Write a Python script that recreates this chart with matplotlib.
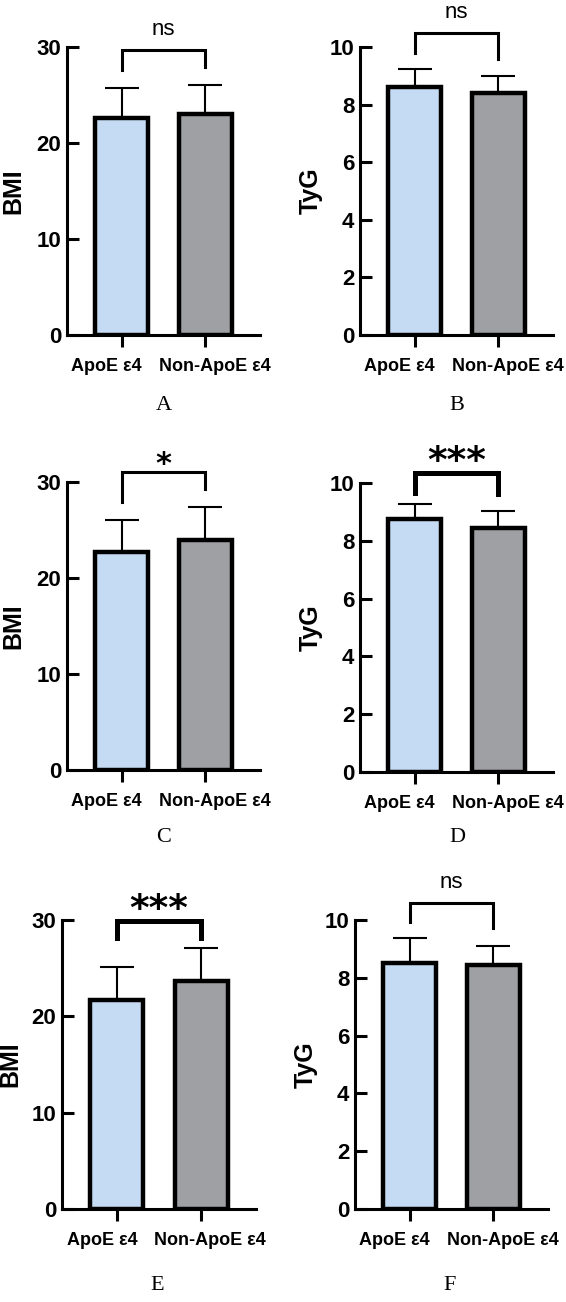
import matplotlib
matplotlib.use("Agg")
import matplotlib.pyplot as plt
from matplotlib.transforms import ScaledTranslation

# data
groups = ['ApoE ε4', 'Non-ApoE ε4']
panel_letters = ['A', 'B', 'C', 'D', 'E', 'F']
ylabels = ['BMI', 'TyG', 'BMI', 'TyG', 'BMI', 'TyG']
ymax = [30, 10, 30, 10, 30, 10]
ystep = [10, 2, 10, 2, 10, 2]
mean_apoe = [22.6, 8.6, 22.7, 8.74, 21.7, 8.52]
mean_non = [23.0, 8.4, 24.0, 8.43, 23.7, 8.43]
sd_apoe = [3.1, 0.64, 3.3, 0.53, 3.4, 0.85]
sd_non = [3.0, 0.6, 3.4, 0.61, 3.4, 0.67]
sig = ['ns', 'ns', '*', '***', '***', 'ns']
# bracket: top, left leg end, right leg end (data units)
br_top = [29.7, 10.5, 31.0, 10.34, 29.9, 10.6]
br_left = [27.6, 9.8, 27.9, 9.64, 28.1, 9.94]
br_right = [27.9, 9.6, 29.3, 9.62, 28.1, 9.71]

blue = '#C5DBF4'
gray = '#9FA0A4'

W, H = 566, 1302
# axes boxes in pixels: left, right, top, bottom
boxes = [(67, 260, 47, 335), (360, 553, 47, 335),
         (67, 260, 482, 770), (360, 553, 483, 772),
         (62, 256, 920, 1209), (355, 548, 920, 1209)]
ylabel_x = [25, 323, 25, 323, 22, 318]
letter_pos = [(164, 405), (457, 405), (164, 838), (457, 838), (157, 1286), (450, 1286)]

fig = plt.figure(figsize=(W / 100, H / 100), dpi=100)
fig.patch.set_facecolor('white')

sans = ['Liberation Sans', 'DejaVu Sans']

for i in range(6):
    l, r, t, b = boxes[i]
    ax = fig.add_axes([l / W, 1 - b / H, (r - l) / W, (b - t) / H])
    x = [0, 1]
    ax.bar(x, [mean_apoe[i], mean_non[i]], width=0.63, color=[blue, gray],
           edgecolor='black', linewidth=3.2, zorder=3)
    ax.errorbar(x, [mean_apoe[i], mean_non[i]],
                yerr=[[0, 0], [sd_apoe[i], sd_non[i]]], fmt='none',
                ecolor='black', elinewidth=1.5, capsize=12, capthick=1.5, zorder=2)
    ax.set_xlim(-0.65, 1.65)
    ax.set_ylim(0, ymax[i])
    ax.set_yticks(range(0, ymax[i] + 1, ystep[i]))
    ax.set_xticks(x)
    ax.set_xticklabels(groups)
    for s in ['top', 'right']:
        ax.spines[s].set_visible(False)
    for s in ['left', 'bottom']:
        ax.spines[s].set_linewidth(2.2)
    ax.tick_params(axis='x', width=2.2, length=8.5, direction='out', labelsize=13, pad=8)
    ax.tick_params(axis='y', width=2.2, length=8.5, direction='in', labelsize=16, pad=4)
    for lbl in ax.get_yticklabels():
        lbl.set_fontweight('bold')
        lbl.set_family(sans)
    for lbl, dx in zip(ax.get_xticklabels(), [-15, 9]):
        lbl.set_fontweight('bold')
        lbl.set_family(sans)
        lbl.set_transform(lbl.get_transform() + ScaledTranslation(dx / 100, 0, fig.dpi_scale_trans))
    ax.set_ylabel(ylabels[i], fontsize=18, fontweight='bold', family=sans)
    ax.yaxis.set_label_coords((ylabel_x[i] - l) / (r - l), 0.5)

    # significance bracket
    lw = 3.6 if sig[i] == '***' else 2.2
    ax.plot([0, 0, 1, 1], [br_left[i], br_top[i], br_top[i], br_right[i]],
            color='black', lw=lw, clip_on=False, solid_joinstyle='miter', zorder=4)
    if sig[i] == 'ns':
        ax.annotate('ns', (0.5, br_top[i]), xytext=(0, 7), textcoords='offset points',
                    ha='center', va='bottom', fontsize=16, family=sans, annotation_clip=False)
    else:
        ax.annotate(sig[i], (0.5, br_top[i]), xytext=(0, -5), textcoords='offset points',
                    ha='center', va='bottom', fontsize=27 if sig[i] == '***' else 22,
                    fontweight='bold', family='DejaVu Sans', annotation_clip=False)

    lx, ly = letter_pos[i]
    fig.text(lx / W, 1 - ly / H, panel_letters[i], ha='center', va='center',
             fontsize=16, family=['Liberation Serif', 'DejaVu Serif'])

fig.savefig('out.png', dpi=100, facecolor='white')
